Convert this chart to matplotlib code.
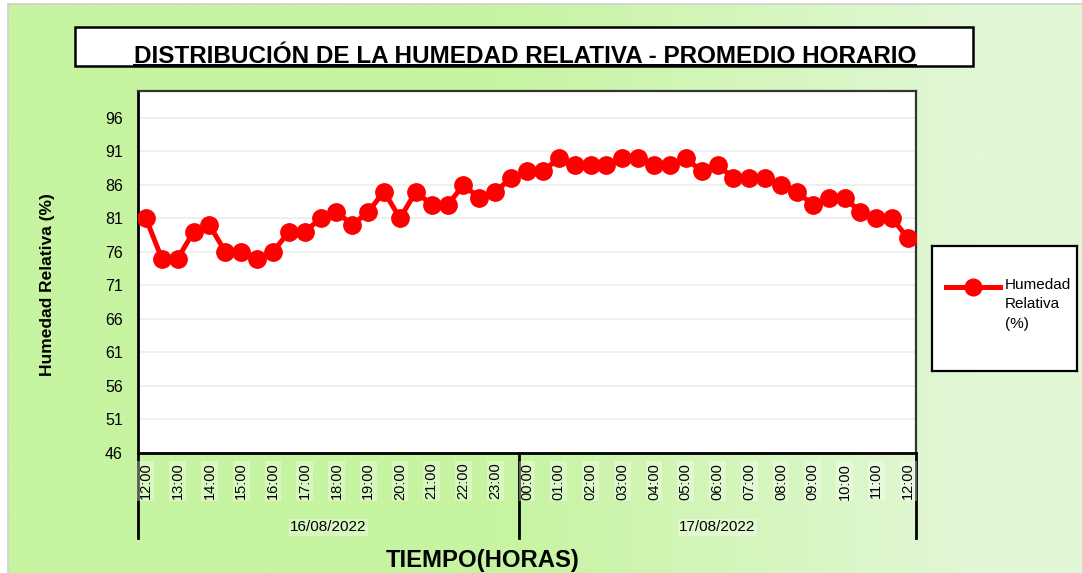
import numpy as np
import matplotlib.pyplot as plt
from matplotlib.patches import Rectangle
from matplotlib.lines import Line2D

# half-hourly averages, 16/08/2022 12:00 -> 17/08/2022 12:00
humedad = [81, 75, 75, 79, 80, 76, 76, 75, 76, 79, 79, 81, 82, 80, 82, 85,
           81, 85, 83, 83, 86, 84, 85, 87, 88, 88, 90, 89, 89, 89, 90, 90,
           89, 89, 90, 88, 89, 87, 87, 87, 86, 85, 83, 84, 84, 82, 81, 81, 78]
horas = ["12:00", "13:00", "14:00", "15:00", "16:00", "17:00", "18:00", "19:00",
         "20:00", "21:00", "22:00", "23:00", "00:00", "01:00", "02:00", "03:00",
         "04:00", "05:00", "06:00", "07:00", "08:00", "09:00", "10:00", "11:00", "12:00"]
fechas = ["16/08/2022", "17/08/2022"]
puntos_por_fecha = [24, 25]
y_ticks = [46, 51, 56, 61, 66, 71, 76, 81, 86, 91, 96]

W, H = 1082, 573
fig = plt.figure(figsize=(W / 100, H / 100), dpi=100)
fig.patch.set_facecolor("white")
sans = ["Liberation Sans", "DejaVu Sans"]


def fit_width(txt, px):
    # shrink a bold title until it spans the same width as in the original
    fig.canvas.draw()
    w = txt.get_window_extent().width
    txt.set_fontsize(txt.get_fontsize() * px / w)


# green gradient background
bg = fig.add_axes([8 / W, 0, 1 - 8 / W, 1 - 4 / H], zorder=-10)
cols = np.linspace(0, 1, 400)
left = np.array([198, 244, 160]) / 255
right = np.array([226, 247, 214]) / 255
t = np.interp(cols, [0, 0.45, 0.9, 1], [0, 0, 1, 1])
grad = left[None, :] * (1 - t[:, None]) + right[None, :] * t[:, None]
bg.imshow(grad[None, :, :], aspect="auto", extent=[0, 1, 0, 1])
bg.axis("off")
fig.add_artist(Line2D([7.5 / W, 7.5 / W], [0, 1 - 3.5 / H], color="#d0d0d0", lw=1.2))
fig.add_artist(Line2D([7.5 / W, 1], [1 - 3.5 / H, 1 - 3.5 / H], color="#d0d0d0", lw=1.2))

# title box
fig.patches.append(Rectangle((75 / W, 1 - 66 / H), (973 - 75) / W, (66 - 27) / H,
                             transform=fig.transFigure, facecolor="white",
                             edgecolor="black", lw=1.8, zorder=1))
title = fig.text(525 / W, 1 - 66 / H, "DISTRIBUCIÓN DE LA HUMEDAD RELATIVA - PROMEDIO HORARIO",
                 ha="center", va="baseline", fontsize=19, fontweight="bold",
                 family=sans, zorder=2)
fit_width(title, 780)
title.set_y(1 - 63 / H)
fig.canvas.draw()
bb = title.get_window_extent().transformed(fig.transFigure.inverted())
fig.add_artist(Line2D([bb.x0, bb.x1], [1 - 65 / H, 1 - 65 / H], color="black", lw=1.4))

# main plot
ax = fig.add_axes([138 / W, 1 - 453 / H, (916 - 138) / W, (453 - 91) / H])
ax.set_facecolor("white")
x = np.arange(len(humedad))
ax.plot(x, humedad, color="#ff0000", lw=3.6, marker="o", markersize=12.5, zorder=3)
ax.set_xlim(-0.5, len(humedad) - 0.5)
ax.set_ylim(46, 100)
ax.set_yticks(y_ticks)
ax.set_yticklabels([str(v) for v in y_ticks], fontsize=11.5, family=sans)
ax.grid(axis="y", color="#ececec", lw=1.2)
ax.set_axisbelow(True)
ax.tick_params(axis="y", length=0, pad=11)
ax.set_xticks(x[::2])
ax.set_xticklabels(horas, rotation=90, fontsize=10.5, family=sans)
ax.tick_params(axis="x", length=0, pad=7)
for lab in ax.get_xticklabels():
    lab.set_bbox(dict(facecolor="white", alpha=0.35, edgecolor="none", pad=1))
for s in ["left", "bottom"]:
    ax.spines[s].set_linewidth(2)
    ax.spines[s].set_color("black")
for s in ["top", "right"]:
    ax.spines[s].set_linewidth(1.6)
    ax.spines[s].set_color("#333333")

# date level of the category axis
trans = ax.get_xaxis_transform()
inicio = -0.5
for fecha, n in zip(fechas, puntos_por_fecha):
    fin = inicio + n
    ax.text((inicio + fin) / 2, -0.205, fecha, transform=trans, ha="center", va="center",
            fontsize=11, family=sans,
            bbox=dict(facecolor="white", alpha=0.35, edgecolor="none", pad=1))
    inicio = fin
sep = -0.5
for n in [0] + puntos_por_fecha:
    sep += n
    ax.add_line(Line2D([sep, sep], [0, -0.235], transform=trans, color="black",
                       lw=2, clip_on=False, zorder=0))

fig.text(48 / W, 1 - 285 / H, "Humedad Relativa (%)", rotation=90, ha="center",
         va="center", fontsize=12.5, fontweight="bold", family=sans)
xlab = fig.text(483 / W, 1 - 561 / H, "TIEMPO(HORAS)", ha="center", va="center",
                fontsize=17, fontweight="bold", family=sans)
fit_width(xlab, 194)

# legend
lax = fig.add_axes([932 / W, 1 - 371 / H, 145 / W, 125 / H])
lax.set_xlim(0, 1)
lax.set_ylim(0, 1)
lax.set_xticks([])
lax.set_yticks([])
for s in lax.spines.values():
    s.set_linewidth(1.6)
    s.set_color("black")
lax.plot([0.097, 0.283, 0.469], [0.672] * 3, color="#ff0000", lw=3.6,
         marker="o", markersize=12, markevery=[1])
lax.text(0.50, 0.745, "Humedad\nRelativa\n(%)", ha="left", va="top",
         fontsize=11, family=sans, linespacing=1.5)

fig.savefig("out.png", dpi=100)
